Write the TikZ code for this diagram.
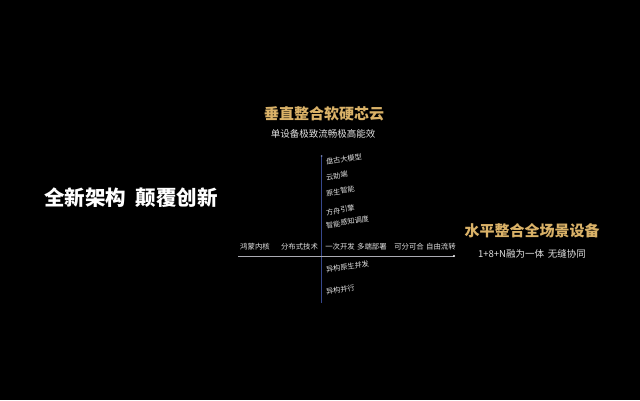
\documentclass[tikz,border=0pt]{standalone}
\usepackage{fontspec}
\newfontfamily\cjk{Noto Sans CJK SC}
\definecolor{gold}{RGB}{218,178,104}
\definecolor{lbl}{RGB}{225,225,225}
\definecolor{vaxis}{RGB}{55,72,140}
\definecolor{haxis}{RGB}{170,170,178}
\begin{document}
\begin{tikzpicture}[x=1pt,y=-1pt,
  title/.style={font=\cjk\bfseries\fontsize{15}{15}\selectfont,text=gold,inner sep=0pt},
  sub/.style={font=\cjk\fontsize{9.5}{10}\selectfont,text=lbl,inner sep=0pt},
  axlbl/.style={font=\cjk\fontsize{7.4}{8}\selectfont,text=lbl,inner sep=0pt},
  vlbl/.style={font=\cjk\fontsize{7.2}{8}\selectfont,text=lbl,inner sep=0pt,anchor=west,rotate=9}]
\fill[black] (0,0) rectangle (640,400);
\useasboundingbox (0,0) rectangle (640,400);
% left heading
\node[font=\cjk\bfseries\fontsize{20.5}{21}\selectfont,text=white,inner sep=0pt] (main) at (131,198) {全新架构\hspace{0.45em}颠覆创新};
% top heading
\node[title] (vtitle) at (324,114) {垂直整合软硬芯云};
\node[sub] (vsub) at (323,134) {单设备极致流畅极高能效};
% right heading
\node[title] (htitle) at (532,231) {水平整合全场景设备};
\node[sub] (hsub) at (532,254) {1+8+N融为一体\hspace{0.4em}无缝协同};
% axes
\coordinate (vtop) at (321.7,156);
\coordinate (vbot) at (321.7,303);
\coordinate (hl) at (238,256);
\coordinate (hr) at (454,256);
\draw[vaxis,line width=1pt] (vtop) -- (vbot);
\fill[vaxis!70!white] (vtop) circle (1pt);
\draw[haxis,line width=0.9pt] (hl) -- (hr);
\fill[white] (hr) circle (1.1pt);
% horizontal labels
\node[axlbl] (h1) at (255,247) {鸿蒙内核};
\node[axlbl] (h2) at (299.5,247) {分布式技术};
\node[axlbl] (h3) at (356,247) {一次开发\hspace{0.3em}多端部署};
\node[axlbl] (h4) at (425,247) {可分可合\hspace{0.3em}自由流转};
% vertical labels
\node[vlbl] (v1) at (326,162) {盘古大模型};
\node[vlbl] (v2) at (326,177.5) {云助端};
\node[vlbl] (v3) at (326,193.5) {原生智能};
\node[vlbl] (v4) at (326,212.5) {方舟引擎};
\node[vlbl] (v5) at (326,225.5) {智能感知调度};
\node[vlbl] (v6) at (326,270) {异构原生并发};
\node[vlbl] (v7) at (326,292) {异构并行};
\end{tikzpicture}
\end{document}
